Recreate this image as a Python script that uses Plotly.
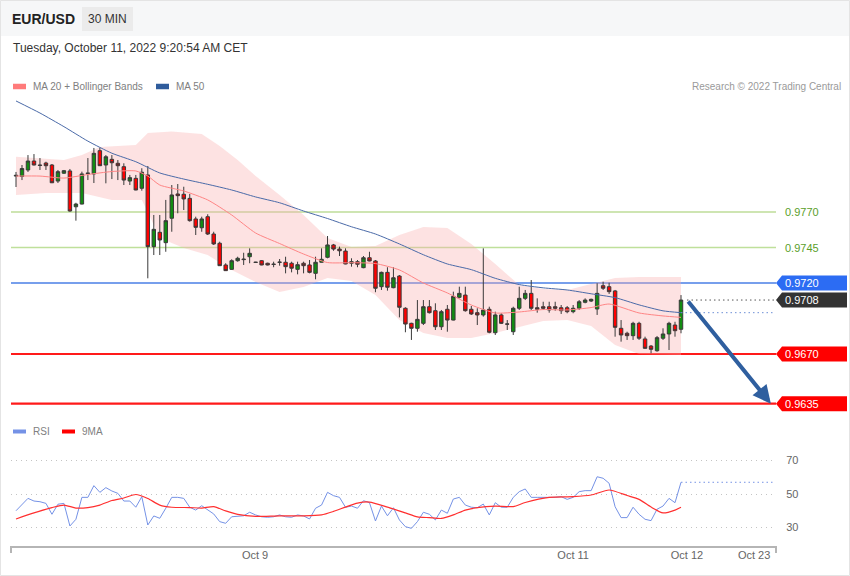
import plotly.graph_objects as go

# ---------------- data ----------------
opens = [0.97953,0.97950,0.97996,0.98059,0.98031,0.98045,0.98031,0.97918,0.97973,0.97989,
         0.97737,0.97756,0.97975,0.97968,0.98132,0.98031,0.98071,0.98043,0.98019,0.97918,
         0.97937,0.97867,0.97961,0.97456,0.97557,0.97484,0.97656,0.97827,0.97825,0.97796,
         0.97651,0.97589,0.97667,0.97545,0.97480,0.97327,0.97296,0.97357,0.97369,0.97385,
         0.97347,0.97357,0.97339,0.97333,0.97345,0.97346,0.97339,0.97296,0.97339,0.97327,
         0.97268,0.97346,0.97381,0.97468,0.97439,0.97425,0.97339,0.97350,0.97308,0.97378,
         0.97355,0.97174,0.97275,0.97167,0.97249,0.97022,0.96916,0.96881,0.96916,0.97033,
         0.97005,0.96892,0.97015,0.96939,0.97099,0.97115,0.97015,0.96991,0.96975,0.97015,
         0.96850,0.96975,0.96912,0.96857,0.97022,0.97092,0.97127,0.97026,0.97033,0.97033,
         0.97033,0.97026,0.97026,0.96998,0.97022,0.97064,0.97073,0.97017,0.97181,0.97174,
         0.97144,0.96881,0.96846,0.96829,0.96916,0.96806,0.96756,0.96723,0.96811,0.96841,
         0.96904,0.96874]
highs = [0.97982,0.98031,0.98101,0.98108,0.98080,0.98054,0.98038,0.97996,0.97996,0.98003,
         0.97765,0.97984,0.98080,0.98151,0.98153,0.98101,0.98101,0.98066,0.98043,0.97961,
         0.97961,0.98008,0.98024,0.97679,0.97679,0.97785,0.97890,0.97897,0.97878,0.97827,
         0.97667,0.97667,0.97684,0.97561,0.97491,0.97339,0.97367,0.97385,0.97413,0.97444,
         0.97349,0.97362,0.97343,0.97350,0.97369,0.97385,0.97350,0.97350,0.97350,0.97362,
         0.97385,0.97444,0.97531,0.97475,0.97456,0.97444,0.97374,0.97362,0.97390,0.97420,
         0.97362,0.97280,0.97311,0.97311,0.97256,0.97029,0.96920,0.97080,0.97080,0.97080,
         0.97057,0.97010,0.97045,0.97139,0.97174,0.97174,0.97038,0.97022,0.97444,0.97033,
         0.96998,0.96987,0.96939,0.97033,0.97174,0.97151,0.97221,0.97092,0.97068,0.97068,
         0.97068,0.97045,0.97038,0.97045,0.97080,0.97092,0.97090,0.97198,0.97209,0.97202,
         0.97151,0.96939,0.96857,0.96927,0.96927,0.96822,0.96763,0.96827,0.96881,0.96927,
         0.96927,0.97115]
lows = [0.97876,0.97925,0.97982,0.98028,0.97996,0.97996,0.97904,0.97904,0.97968,0.97702,
        0.97639,0.97754,0.97925,0.97904,0.98024,0.97902,0.97932,0.97925,0.97890,0.97890,
        0.97853,0.97850,0.97233,0.97397,0.97397,0.97420,0.97561,0.97691,0.97714,0.97632,
        0.97538,0.97561,0.97538,0.97468,0.97320,0.97285,0.97292,0.97350,0.97327,0.97339,
        0.97344,0.97325,0.97324,0.97311,0.97322,0.97268,0.97275,0.97261,0.97268,0.97268,
        0.97226,0.97344,0.97374,0.97427,0.97390,0.97332,0.97315,0.97311,0.97304,0.97353,
        0.97135,0.97151,0.97146,0.97163,0.96958,0.96853,0.96799,0.96857,0.96904,0.96985,
        0.96869,0.96869,0.96857,0.96937,0.97092,0.96998,0.96975,0.96904,0.96963,0.96846,
        0.96834,0.96911,0.96869,0.96834,0.97010,0.97080,0.97010,0.96991,0.97010,0.96991,
        0.97005,0.96982,0.96987,0.96987,0.97010,0.97057,0.97066,0.96975,0.97151,0.97123,
        0.96822,0.96787,0.96799,0.96799,0.96799,0.96738,0.96705,0.96716,0.96799,0.96728,
        0.96822,0.96846]
closes = [0.97958,0.98006,0.98059,0.98031,0.98028,0.98026,0.97906,0.97984,0.97991,0.97707,
          0.97756,0.97968,0.97971,0.98113,0.98026,0.98089,0.98047,0.98026,0.97925,0.97942,
          0.97855,0.97980,0.97456,0.97578,0.97503,0.97639,0.97820,0.97815,0.97792,0.97639,
          0.97592,0.97651,0.97545,0.97475,0.97322,0.97287,0.97357,0.97374,0.97365,0.97409,
          0.97345,0.97327,0.97327,0.97331,0.97347,0.97315,0.97304,0.97329,0.97322,0.97275,
          0.97346,0.97367,0.97468,0.97439,0.97427,0.97334,0.97350,0.97332,0.97378,0.97355,
          0.97163,0.97275,0.97170,0.97237,0.97029,0.96911,0.96881,0.96944,0.97033,0.96991,
          0.96892,0.96998,0.96939,0.97106,0.97127,0.97005,0.96982,0.96975,0.97010,0.96853,
          0.96975,0.96916,0.96910,0.97022,0.97092,0.97127,0.97022,0.97015,0.97022,0.97010,
          0.97022,0.97005,0.96998,0.97022,0.97068,0.97080,0.97085,0.97127,0.97163,0.97139,
          0.96888,0.96834,0.96829,0.96916,0.96811,0.96740,0.96733,0.96815,0.96841,0.96916,
          0.96864,0.97080]

ma50_idx = [0,4,8,12,16,20,24,28,32,36,40,44,48,52,56,60,64,68,72,76,80,84,88,92,96,100,104,108,111]
ma50_val = [0.98482,0.98397,0.98301,0.98199,0.98114,0.98054,0.97975,0.97932,0.97895,0.97855,
            0.97806,0.97765,0.97707,0.97654,0.97596,0.97545,0.97475,0.97399,0.97334,0.97294,
            0.97233,0.97189,0.97166,0.97151,0.97124,0.97097,0.97046,0.97004,0.96991]

ma20_idx = [0,4,8,12,16,20,22,24,28,32,36,40,44,48,52,56,60,64,68,72,76,80,84,88,92,96,99,104,108,111]
ma20_val = [0.97953,0.97953,0.97939,0.97964,0.97985,0.97989,0.97953,0.97890,0.97848,0.97785,
            0.97679,0.97552,0.97478,0.97404,0.97344,0.97343,0.97337,0.97292,0.97200,0.97130,
            0.97045,0.96989,0.96996,0.97013,0.97010,0.97027,0.97052,0.96989,0.96968,0.96958]

bb_up_idx = [0,4,8,11,14,20,22,26,31,34,37,40,44,48,52,56,60,64,68,72,76,80,84,88,92,96,100,104,111]
bb_up_val = [0.98089,0.98080,0.98066,0.98101,0.98158,0.98172,0.98256,0.98267,0.98249,0.98165,
             0.98066,0.97953,0.97820,0.97679,0.97517,0.97454,0.97461,0.97538,0.97594,0.97587,
             0.97475,0.97334,0.97186,0.97158,0.97151,0.97193,0.97235,0.97242,0.97242]
bb_lo_idx = [0,5,11,16,21,22,24,28,32,36,40,44,48,52,56,60,64,68,72,76,80,84,88,92,96,100,104,111]
bb_lo_val = [0.97820,0.97834,0.97834,0.97785,0.97785,0.97700,0.97517,0.97446,0.97397,0.97292,
             0.97207,0.97137,0.97172,0.97235,0.97214,0.97115,0.96939,0.96848,0.96813,0.96813,
             0.96848,0.96890,0.96932,0.96939,0.96897,0.96763,0.96700,0.96693]

rsi = [40.0,43.4,47.4,45.8,45.4,44.4,37.9,43.9,44.4,30.9,
       34.9,48.0,48.0,55.0,51.0,53.8,51.8,50.4,45.8,45.8,
       42.1,48.4,31.5,36.9,35.5,41.5,48.0,48.0,47.4,42.1,
       40.4,43.0,40.4,38.1,33.5,32.5,36.4,36.9,37.0,39.1,
       37.5,36.4,36.1,36.4,37.5,36.4,36.1,37.5,36.9,35.1,
       41.5,43.4,51.0,49.0,48.0,42.1,42.8,41.5,46.0,44.8,
       33.9,42.8,37.0,41.8,34.5,30.5,29.5,33.5,39.1,37.9,
       34.5,40.4,38.5,47.0,48.0,43.4,42.1,41.8,44.0,37.5,
       44.8,42.1,42.1,48.0,51.4,53.0,48.0,48.0,47.9,47.8,
       48.0,48.4,46.8,48.0,51.4,52.0,52.0,60.3,59.4,56.4,
       42.4,35.9,35.9,42.1,37.9,34.9,34.1,40.9,42.8,47.4,
       44.8,57.0]

rsi_ma_idx = [0,3,6,8,10,12,14,16,18,20,22,24,26,29,31,33,35,37,40,44,48,51,53,55,57,59,62,
              65,67,69,71,73,75,77,80,83,85,89,93,96,99,102,104,106,108,110,111]
rsi_ma_val = [35.1,38.7,41.9,43.4,41.6,41.9,43.4,46.1,47.6,49.7,47.3,43.4,42.1,41.9,41.6,42.5,
              39.9,37.8,36.6,37.0,36.9,37.5,39.6,42.2,44.6,45.2,42.2,38.7,36.3,35.9,35.4,37.5,
              40.4,41.9,42.8,42.5,44.9,48.0,48.4,49.4,52.4,49.1,46.8,42.2,38.7,40.4,42.1]

levels = [0.9770, 0.9745, 0.9720, 0.9708, 0.9670, 0.9635]
level_text = ["0.9770", "0.9745", "0.9720", "0.9708", "0.9670", "0.9635"]
target_price = 0.9635
target_idx = 126

tick_pos = [39.9, 93.0, 112.0, 123.2]
tick_text = ["Oct 9", "Oct 11", "Oct 12", "Oct 23"]

# ---------------- layout helpers ----------------
W, H = 850, 576
ML, MR, MT, MB = 11, 74, 95, 29
PW = W - ML - MR
PH = H - MT - MB


def px(x):
    return (x - ML) / PW


def py(y):
    return (H - MB - y) / PH


n = len(closes)
idx = list(range(n))
step = 665 / 111.0
x_range = [-(16 - ML) / step, (W - MR - 16) / step]
y_range = [0.9720 - 132 / 14200, 0.9720 + 188 / 14200]
rsi_range = [50 - 53 / 1.675, 50 + 49 / 1.675]

FONT = "Liberation Sans, Arial, sans-serif"
DOTS = "1px,4px"

fig = go.Figure()

# Bollinger band (kept beneath the candles)
fig.add_trace(go.Scatter(
    x=bb_up_idx + bb_lo_idx[::-1], y=bb_up_val + bb_lo_val[::-1],
    fill="toself", fillcolor="rgba(250,175,175,0.36)", line=dict(width=0),
    mode="lines", hoverinfo="skip", showlegend=False, xaxis="x", yaxis="y", zorder=-1))

fig.add_trace(go.Candlestick(
    x=idx, open=opens, high=highs, low=lows, close=closes,
    increasing=dict(fillcolor="#128c12", line=dict(color="#3a3a3a", width=1)),
    decreasing=dict(fillcolor="#ff0000", line=dict(color="#3a3a3a", width=1)),
    whiskerwidth=0, showlegend=False, xaxis="x", yaxis="y"))

fig.add_trace(go.Scatter(
    x=ma20_idx, y=ma20_val, mode="lines", line=dict(color="#ff8585", width=1, shape="spline", smoothing=0.6),
    hoverinfo="skip", showlegend=False, xaxis="x", yaxis="y"))
fig.add_trace(go.Scatter(
    x=ma50_idx, y=ma50_val, mode="lines", line=dict(color="#4a6aa8", width=1, shape="spline", smoothing=0.6),
    hoverinfo="skip", showlegend=False, xaxis="x", yaxis="y"))

# RSI pane
fig.add_trace(go.Scatter(
    x=idx, y=rsi, mode="lines", line=dict(color="#7592e6", width=1),
    hoverinfo="skip", showlegend=False, xaxis="x2", yaxis="y2"))
fig.add_trace(go.Scatter(
    x=rsi_ma_idx, y=rsi_ma_val, mode="lines", line=dict(color="#ff3030", width=1.2, shape="spline", smoothing=0.6),
    hoverinfo="skip", showlegend=False, xaxis="x2", yaxis="y2"))

shapes = []
annotations = []

# header
shapes.append(dict(type="rect", xref="paper", yref="paper", x0=px(0), x1=px(850), y0=py(36), y1=py(0),
                   fillcolor="#f6f7f8", line=dict(width=0), layer="below"))
shapes.append(dict(type="rect", xref="paper", yref="paper", x0=px(82), x1=px(133), y0=py(31), y1=py(7),
                   fillcolor="#ebebeb", line=dict(width=0), layer="below"))
shapes.append(dict(type="rect", xref="paper", yref="paper", x0=px(0.5), x1=px(849.5), y0=py(575.5), y1=py(0.5),
                   line=dict(color="#e4e4e4", width=1)))
annotations.append(dict(text="<b>EUR/USD</b>", xref="paper", yref="paper", x=px(10), y=py(19),
                        xanchor="left", yanchor="middle", showarrow=False,
                        font=dict(family=FONT, size=14, color="#222")))
annotations.append(dict(text="30 MIN", xref="paper", yref="paper", x=px(107.5), y=py(19),
                        xanchor="center", yanchor="middle", showarrow=False,
                        font=dict(family=FONT, size=12, color="#333")))
annotations.append(dict(text="Tuesday, October 11, 2022 9:20:54 AM CET", xref="paper", yref="paper",
                        x=px(11), y=py(48), xanchor="left", yanchor="middle", showarrow=False,
                        font=dict(family=FONT, size=12, color="#333")))

# legends
def legend_item(x_sw, y_c, color, text, h=5):
    shapes.append(dict(type="rect", xref="paper", yref="paper", x0=px(x_sw), x1=px(x_sw + 13),
                       y0=py(y_c + h / 2), y1=py(y_c - h / 2), fillcolor=color, line=dict(width=0)))
    annotations.append(dict(text=text, xref="paper", yref="paper", x=px(x_sw + 18), y=py(y_c),
                            xanchor="left", yanchor="middle", showarrow=False,
                            font=dict(family=FONT, size=10, color="#808080")))

legend_item(13, 86.5, "#ff7b7b", "MA 20 + Bollinger Bands", 5.5)
legend_item(156, 86.5, "#2f5c9c", "MA 50", 5.5)
legend_item(13, 431.5, "#7592e6", "RSI", 4)
legend_item(62, 431.5, "#ff0000", "9MA", 4)
annotations.append(dict(text="Research © 2022 Trading Central", xref="paper", yref="paper",
                        x=px(843), y=py(86.5), xanchor="right", yanchor="middle", showarrow=False,
                        font=dict(family=FONT, size=10, color="#9a9a9a")))

# levels
line_styles = [
    dict(color="#9dcb66", width=1.2),
    dict(color="#bfe09b", width=1.6),
    dict(color="#4a7fe6", width=1.6),
    None,
    dict(color="#ff1a1a", width=2.2),
    dict(color="#ff1a1a", width=2.2),
]
box_colors = [None, None, "#2c6cf3", "#333333", "#ff0000", "#ff0000"]
half_h = 7.5 / 14200
for lv, txt, ls, bc in zip(levels, level_text, line_styles, box_colors):
    if ls is not None:
        shapes.append(dict(type="line", xref="x domain", yref="y", x0=0, x1=1, y0=lv, y1=lv,
                           line=ls, layer="below"))
    if bc is None:
        annotations.append(dict(text=txt, xref="paper", yref="y", x=px(783), y=lv, xanchor="left",
                                yanchor="middle", showarrow=False,
                                font=dict(family=FONT, size=11, color="#5a9e2a")))
    else:
        path = (f"M {px(776)},{lv} L {px(782)},{lv + half_h} L {px(847)},{lv + half_h} "
                f"L {px(847)},{lv - half_h} L {px(782)},{lv - half_h} Z")
        shapes.append(dict(type="path", xref="paper", yref="y", path=path, fillcolor=bc, line=dict(width=0)))
        annotations.append(dict(text=txt, xref="paper", yref="y", x=px(783), y=lv, xanchor="left",
                                yanchor="middle", showarrow=False,
                                font=dict(family=FONT, size=11, color="white")))

# projections of last values
shapes.append(dict(type="line", xref="x", yref="y", x0=n, x1=x_range[1] - 0.2, y0=closes[-1], y1=closes[-1],
                   line=dict(color="#555", width=1, dash="1.5px,3px")))
shapes.append(dict(type="line", xref="x", yref="y", x0=n - 1, x1=x_range[1] - 0.2, y0=ma50_val[-1], y1=ma50_val[-1],
                   line=dict(color="#6d8fd6", width=1, dash="1.5px,3px")))
shapes.append(dict(type="line", xref="x2", yref="y2", x0=n - 1, x1=x_range[1] - 0.2, y0=rsi[-1], y1=rsi[-1],
                   line=dict(color="#7592e6", width=1, dash="1.5px,3px")))

# x axis line with end ticks
shapes.append(dict(type="line", xref="paper", yref="paper", x0=px(ML), x1=px(W - MR), y0=py(547), y1=py(547),
                   line=dict(color="#b5b5b5", width=2)))
for xe in (ML, W - MR):
    shapes.append(dict(type="line", xref="paper", yref="paper", x0=px(xe), x1=px(xe), y0=py(546), y1=py(553),
                       line=dict(color="#b5b5b5", width=2)))

# forecast arrow
annotations.append(dict(x=target_idx, y=target_price, ax=n, ay=closes[-1], xref="x", yref="y",
                        axref="x", ayref="y", text="", showarrow=True, arrowhead=2, arrowsize=0.9,
                        arrowwidth=4, arrowcolor="#2f5f9f", standoff=0, startstandoff=0))

fig.update_layout(
    width=W, height=H, margin=dict(l=ML, r=MR, t=MT, b=MB, pad=0),
    paper_bgcolor="white", plot_bgcolor="rgba(0,0,0,0)",
    showlegend=False, hovermode=False, boxgap=0.18,
    shapes=shapes, annotations=annotations,
    font=dict(family=FONT, size=11, color="#666"),
    xaxis=dict(domain=[0, 1], range=x_range, anchor="y", visible=False, rangeslider=dict(visible=False),
               fixedrange=True),
    yaxis=dict(domain=[py(415), 1], range=y_range, visible=False, fixedrange=True),
    xaxis2=dict(domain=[0, 1], range=x_range, anchor="y2", matches="x", showgrid=False, zeroline=False,
                showline=False, ticks="", tickvals=tick_pos,
                ticktext=tick_text, tickfont=dict(family=FONT, size=11, color="#666")),
    yaxis2=dict(domain=[0, py(445)], range=rsi_range, side="right", anchor="x2", tickvals=[30, 50, 70],
                showgrid=True, gridcolor="#c4c4c4", griddash=DOTS, gridwidth=1, zeroline=False,
                showline=False, ticks="outside", ticklen=7, tickcolor="rgba(0,0,0,0)",
                tickfont=dict(family=FONT, size=11, color="#666"), fixedrange=True),
)

fig.write_html("out.html")
